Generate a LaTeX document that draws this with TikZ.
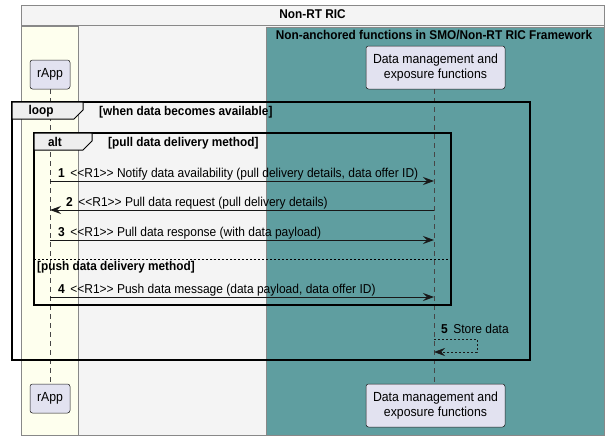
\documentclass[tikz,border=0pt]{standalone}
\usepackage{fontspec}
\setmainfont{Liberation Sans}[FakeStretch=0.93]
\usetikzlibrary{arrows.meta}
\definecolor{outerfill}{HTML}{F4F4F4}
\definecolor{lanefill}{HTML}{FEFFEE}
\definecolor{tealfill}{HTML}{5F9EA0}
\definecolor{partfill}{HTML}{E2E2F0}
\definecolor{ink}{HTML}{181818}
\definecolor{tabfill}{HTML}{EEEEEE}
\definecolor{boxline}{HTML}{888888}
\newcommand\Rone{<{}<R1>{}>}
\tikzset{
  msgfont/.style={font=\fontsize{12.9}{14}\selectfont},
  hdrfont/.style={font=\bfseries\fontsize{12.7}{14}\selectfont},
  participant/.style={draw=ink, fill=partfill, rounded corners=2.5pt, line width=0.5pt,
    align=center, font=\fontsize{13.2}{15.5}\selectfont, inner sep=0pt},
  lifeline/.style={draw=ink!80, line width=0.5pt, dash pattern=on 5pt off 4pt},
  msg/.style={draw=ink, line width=0.8pt, -{Stealth[length=11pt,width=8pt,inset=4pt]}},
  selfmsg/.style={draw=ink, line width=0.6pt, dash pattern=on 2pt off 2pt,
    -{Stealth[length=11pt,width=8pt,inset=4pt]}},
  mlabel/.style={msgfont, anchor=base west, inner sep=0pt},
  frame/.style={draw=black, line width=1.6pt},
  tab/.style={draw=black, fill=tabfill, line width=1pt},
  lanebox/.style={draw=boxline, line width=0.6pt},
}
\begin{document}
\begin{tikzpicture}[x=1pt,y=-1pt]
\useasboundingbox (0,0) rectangle (608,440);
% containers
\filldraw[lanebox, fill=outerfill] (21,5) rectangle (604,435);
\draw[lanebox] (21,25) -- (604,25);
\node[hdrfont] (nrtric) at (312.5,14.5) {Non-RT RIC};
\filldraw[lanebox, fill=lanefill] (21,26) rectangle (78,435);
\filldraw[lanebox, fill=tealfill] (266,27) rectangle (604,435);
\node[hdrfont] (smo) at (434,35) {Non-anchored functions in SMO/Non-RT RIC Framework};
% participants
\node[participant, minimum width=40pt, minimum height=29pt] (rtop) at (50,74.5) {rApp};
\node[participant, minimum width=139pt, minimum height=43pt] (dtop) at (435.5,67.5) {Data management and\\exposure functions};
\node[participant, minimum width=40pt, minimum height=29pt] (rbot) at (50,398.5) {rApp};
\node[participant, minimum width=139pt, minimum height=43pt] (dbot) at (435.5,405.5) {Data management and\\exposure functions};
% lifelines
\coordinate (rl1) at (50,89);
\coordinate (rl2) at (50,384);
\coordinate (dl1) at (434,89);
\coordinate (dl2) at (434,384);
\draw[lifeline] (rl1) -- (rl2);
\draw[lifeline] (dl1) -- (dl2);
% loop frame
\draw[frame] (12,102) rectangle (530,360);
\filldraw[tab] (12,102) -- (83,102) -- (83,110) -- (74,119) -- (12,119) -- cycle;
\node[hdrfont] (looplbl) at (41,111) {loop};
\node[hdrfont, anchor=west, inner sep=0pt] (loopguard) at (99,112) {[when data becomes available]};
% alt frame
\draw[frame] (34,133) rectangle (451,305);
\filldraw[tab] (34,133) -- (92,133) -- (92,141) -- (83,150) -- (34,150) -- cycle;
\node[hdrfont] (altlbl) at (55,142) {alt};
\node[hdrfont, anchor=west, inner sep=0pt] (altguard) at (108,143) {[pull data delivery method]};
\draw[black, line width=0.6pt, dash pattern=on 2pt off 2pt] (34,259) -- (451,259);
\node[hdrfont, anchor=west, inner sep=0pt] (altguard2) at (37,267) {[push data delivery method]};
% messages
\coordinate (m1a) at (50,181); \coordinate (m1b) at (434,181);
\draw[msg] (m1a) -- (m1b);
\node[mlabel] (l1) at (58,177) {\textbf{1}\, \Rone{} Notify data availability (pull delivery details, data offer ID)};
\coordinate (m2a) at (434,210); \coordinate (m2b) at (50,210);
\draw[msg] (m2a) -- (m2b);
\node[mlabel] (l2) at (66,206) {\textbf{2}\, \Rone{} Pull data request (pull delivery details)};
\coordinate (m3a) at (50,240); \coordinate (m3b) at (434,240);
\draw[msg] (m3a) -- (m3b);
\node[mlabel] (l3) at (58,236) {\textbf{3}\, \Rone{} Pull data response (with data payload)};
\coordinate (m4a) at (50,297); \coordinate (m4b) at (434,297);
\draw[msg] (m4a) -- (m4b);
\node[mlabel] (l4) at (58,293) {\textbf{4}\, \Rone{} Push data message (data payload, data offer ID)};
\coordinate (m5a) at (434,339); \coordinate (m5b) at (434,352);
\draw[selfmsg] (m5a) -- (477,339) -- (477,352) -- (m5b);
\node[mlabel] (l5) at (441,333) {\textbf{5}\, Store data};
\end{tikzpicture}
\end{document}
